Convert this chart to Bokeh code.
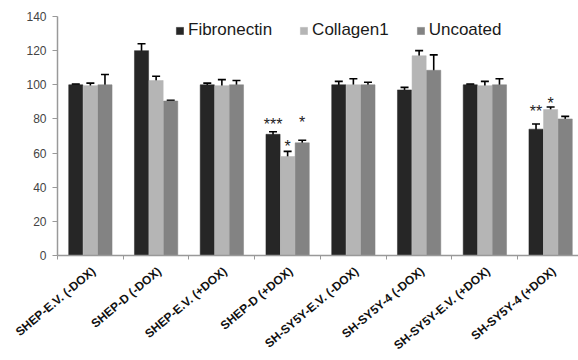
import math
from bokeh.plotting import figure
from bokeh.models import (ColumnDataSource, Range1d, FixedTicker, Whisker, TeeHead,
                          Legend, LegendItem)
from bokeh.core.properties import value
from bokeh.embed import file_html
from bokeh.resources import INLINE

categories = ["SHEP-E.V. (-DOX)", "SHEP-D (-DOX)", "SHEP-E.V. (+DOX)", "SHEP-D (+DOX)",
              "SH-SY5Y-E.V. (-DOX)", "SH-SY5Y-4 (-DOX)", "SH-SY5Y-E.V. (+DOX)", "SH-SY5Y-4 (+DOX)"]
series_names = ["Fibronectin", "Collagen1", "Uncoated"]
fibronectin = [100, 120, 100, 71, 100, 97, 100, 74]
fibronectin_err = [0.4, 4, 1, 1.5, 2, 1.5, 0.4, 3]
collagen1 = [99.5, 102.5, 99.5, 58, 100, 117, 99.5, 85.5]
collagen1_err = [1.5, 2.5, 3.5, 3, 3.5, 3, 2.5, 1.5]
uncoated = [100, 90.5, 100, 66, 100, 108.5, 100, 80]
uncoated_err = [6, 0.4, 2.5, 1.5, 1.5, 9, 3.5, 1.5]
# significance marks: (category index, series index, text, height in data units)
sig_cat = [3, 3, 3, 7, 7]
sig_series = [0, 1, 2, 0, 1]
sig_text = ["***", "*", "*", "**", "*"]
sig_y = [79.8, 67, 80.6, 87.5, 92]
y_ticks = [0, 20, 40, 60, 80, 100, 120, 140]

colors = ["#262626", "#b5b5b5", "#838383"]
offsets = [-0.222, 0.0, 0.222]
bar_w = 0.215
label_shift = 0.05

p = figure(width=578, height=360, output_backend="svg", toolbar_location=None,
           x_range=Range1d(0, 7.924), y_range=Range1d(0, 140),
           min_border_left=57, min_border_right=0, min_border_top=16, min_border_bottom=102)
p.outline_line_color = None
p.xgrid.grid_line_color = None
p.ygrid.grid_line_color = None

vals = [fibronectin, collagen1, uncoated]
errs = [fibronectin_err, collagen1_err, uncoated_err]
renderers = []
for k in range(3):
    xs = [i + 0.5 + offsets[k] for i in range(len(categories))]
    src = ColumnDataSource(dict(x=xs, top=vals[k],
                                up=[v + e for v, e in zip(vals[k], errs[k])],
                                lo=[v - e for v, e in zip(vals[k], errs[k])]))
    r = p.vbar(x="x", top="top", bottom=0, width=bar_w, source=src,
               fill_color=colors[k], line_color=colors[k], line_width=0.5)
    renderers.append(r)
    w = Whisker(base="x", upper="up", lower="lo", source=src, line_color="black", line_width=1.6,
                upper_head=TeeHead(size=8, line_color="black", line_width=1.6),
                lower_head=TeeHead(size=8, line_color="black", line_width=1.6))
    p.add_layout(w)

sx = [c + 0.5 + offsets[s] for c, s in zip(sig_cat, sig_series)]
p.text(x=sx, y=sig_y, text=sig_text, text_align="center", text_baseline="middle",
       text_font=value("Liberation Sans"), text_font_size="16px", text_color="#222222",
       y_offset=5)

legend = Legend(items=[LegendItem(label=series_names[k], renderers=[renderers[k]]) for k in range(3)],
                orientation="horizontal", location=(118, 215),
                background_fill_alpha=0, border_line_color=None, padding=0, margin=0,
                glyph_width=9, glyph_height=9, label_standoff=4, spacing=27,
                label_text_font="Liberation Sans", label_text_font_size="17px",
                label_text_color="#1a1a1a", label_height=14)
p.add_layout(legend, "center")

# x axis: category names at group centres, ticks at group boundaries
p.xaxis.ticker = FixedTicker(ticks=[i + 0.5 + label_shift for i in range(len(categories))],
                             minor_ticks=list(range(len(categories) + 1)))
p.xaxis.major_label_overrides = {i + 0.5 + label_shift: c for i, c in enumerate(categories)}
p.xaxis.major_label_orientation = math.radians(40)
p.xaxis.major_tick_line_color = None
p.xaxis.minor_tick_line_color = "#999999"
p.xaxis.minor_tick_out = 4
p.xaxis.minor_tick_in = 0
p.xaxis.major_label_standoff = 8
p.xaxis.major_label_text_font = "Liberation Sans"
p.xaxis.major_label_text_font_style = "bold"
p.xaxis.major_label_text_font_size = "12px"
p.xaxis.major_label_text_color = "#111111"
p.xaxis.axis_line_color = "#999999"
p.xaxis.axis_line_width = 1.5

# y axis
p.yaxis.ticker = FixedTicker(ticks=y_ticks, minor_ticks=[])
p.yaxis.axis_line_color = "#999999"
p.yaxis.axis_line_width = 1.5
p.yaxis.major_tick_line_color = "#999999"
p.yaxis.major_tick_out = 5
p.yaxis.major_tick_in = 0
p.yaxis.major_label_standoff = 6
p.yaxis.major_label_text_font = "Liberation Sans"
p.yaxis.major_label_text_font_size = "12px"
p.yaxis.major_label_text_color = "#444444"

open("out.html", "w").write(file_html(p, INLINE))
